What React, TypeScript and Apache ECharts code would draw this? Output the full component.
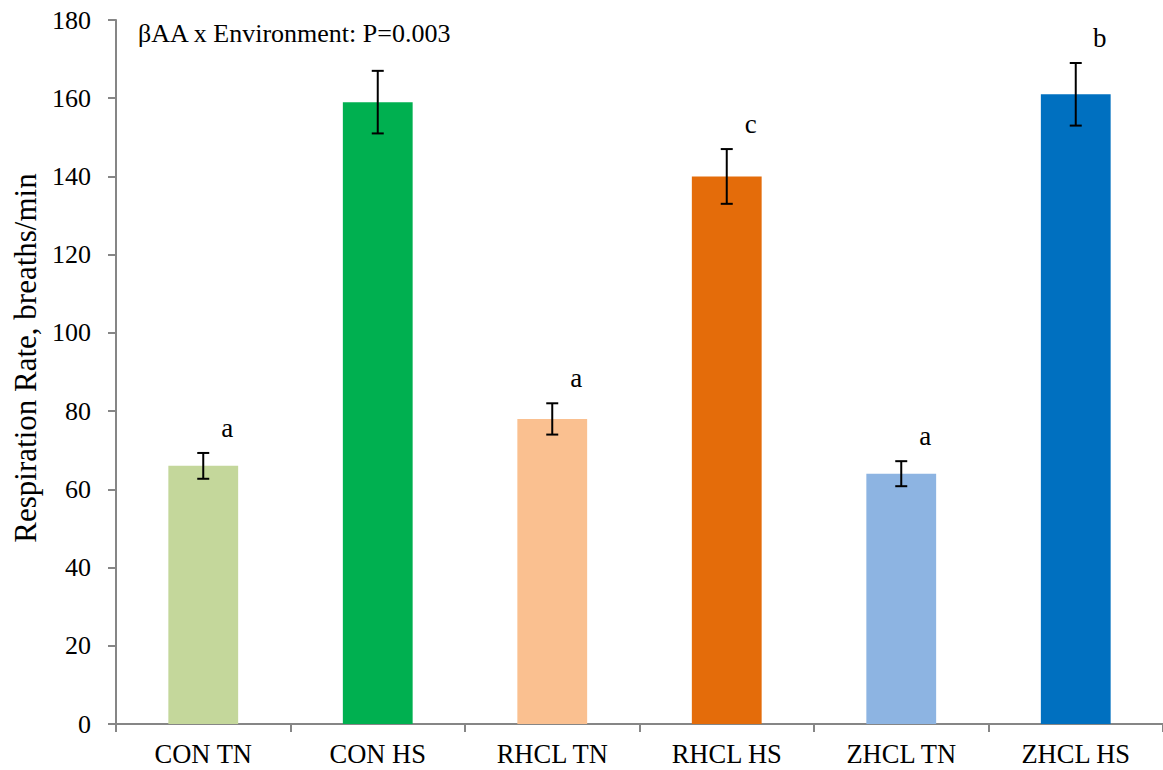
import React, { useEffect, useRef } from "react";
import * as echarts from "echarts";

const categories = ["CON TN", "CON HS", "RHCL TN", "RHCL HS", "ZHCL TN", "ZHCL HS"];
const means = [66, 159, 78, 140, 64, 161];
const errors = [3.3, 8, 4, 7, 3.2, 8];
const letters = ["a", "", "a", "c", "a", "b"];
const barColors = ["#C4D79B", "#00B050", "#FAC090", "#E46C0A", "#8DB4E2", "#0070C0"];
const yTicks = { min: 0, max: 180, interval: 20 };
const annotation = "βAA x Environment: P=0.003";
const yName = "Respiration Rate, breaths/min";

const FONT = "Liberation Serif";

export default function App() {
  const ref = useRef<HTMLDivElement>(null);
  useEffect(() => {
    if (!ref.current) return;
    const chart = echarts.init(ref.current, undefined, { renderer: "svg" });
    chart.setOption({
      animation: false,
      backgroundColor: "#ffffff",
      graphic: [
        {
          type: "text",
          x: 138,
          y: 33,
          style: {
            text: annotation,
            fontFamily: FONT,
            fontSize: 26,
            fill: "#000",
            textAlign: "left",
            textVerticalAlign: "middle",
          },
        },
        {
          type: "text",
          x: 25,
          y: 358,
          rotation: Math.PI / 2,
          style: {
            text: yName,
            fontFamily: FONT,
            fontSize: 31,
            fill: "#000",
            textAlign: "center",
            textVerticalAlign: "middle",
          },
        },
      ],
      grid: { left: 116, top: 20, bottom: 46, right: -6, containLabel: false },
      xAxis: {
        type: "category",
        data: categories,
        axisLine: { lineStyle: { color: "#868686", width: 2 } },
        axisTick: { show: true, length: 8, lineStyle: { color: "#868686", width: 2 } },
        axisLabel: { fontFamily: FONT, fontSize: 26.5, color: "#000", margin: 16 },
        splitLine: { show: false },
      },
      yAxis: {
        type: "value",
        min: yTicks.min,
        max: yTicks.max,
        interval: yTicks.interval,
        axisLine: { show: true, lineStyle: { color: "#868686", width: 2 } },
        axisTick: { show: true, length: 8, lineStyle: { color: "#868686", width: 2 } },
        axisLabel: { fontFamily: FONT, fontSize: 26, color: "#000", margin: 25 },
        splitLine: { show: false },
      },
      series: [
        {
          type: "bar",
          barWidth: "40%",
          data: means.map((v, i) => ({ value: v, itemStyle: { color: barColors[i] } })),
        },
        {
          type: "custom",
          data: means.map((v, i) => [i, v, errors[i]]),
          z: 10,
          renderItem: (params: any, api: any) => {
            const i = api.value(0);
            const m = api.value(1);
            const e = api.value(2);
            const top = api.coord([i, m + e]);
            const bot = api.coord([i, m - e]);
            const x = top[0];
            const cap = 6;
            const ls = { stroke: "#000", lineWidth: 2 };
            const children: any[] = [
              { type: "line", shape: { x1: x, y1: top[1], x2: x, y2: bot[1] }, style: ls },
              { type: "line", shape: { x1: x - cap, y1: top[1], x2: x + cap, y2: top[1] }, style: ls },
              { type: "line", shape: { x1: x - cap, y1: bot[1], x2: x + cap, y2: bot[1] }, style: ls },
            ];
            const letter = letters[params.dataIndex];
            if (letter) {
              children.push({
                type: "text",
                x: x + 24,
                y: top[1] - 25,
                style: {
                  text: letter,
                  fontFamily: FONT,
                  fontSize: 27,
                  fill: "#000",
                  textAlign: "center",
                  textVerticalAlign: "middle",
                },
              });
            }
            return { type: "group", children };
          },
        },
      ],
    });
    return () => chart.dispose();
  }, []);
  return (
    <div
      ref={ref}
      style={{ position: "fixed", left: 0, top: 0, width: 1163, height: 770, overflow: "hidden" }}
    />
  );
}
